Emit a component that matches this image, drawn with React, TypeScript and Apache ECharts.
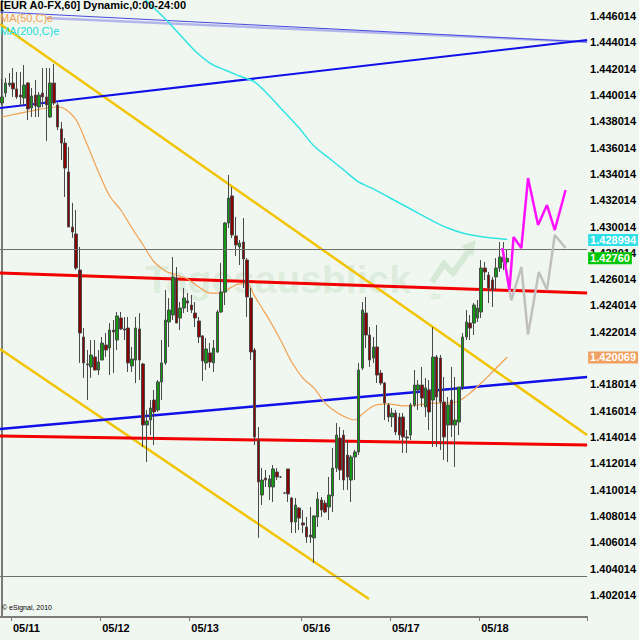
import React, { useEffect, useRef } from "react";
import * as echarts from "echarts";

const N_SLOTS = 158;

// [open, close, low, high] per hourly bar
const candles: [number, number, number, number][] = [
  [1.4394, 1.43986, 1.43925, 1.44123],
  [1.44016, 1.44092, 1.43986, 1.4413],
  [1.44077, 1.44092, 1.44062, 1.44168],
  [1.44092, 1.44047, 1.43986, 1.44206],
  [1.44047, 1.43986, 1.43971, 1.44176],
  [1.44001, 1.43986, 1.43917, 1.44176],
  [1.43978, 1.44077, 1.43925, 1.44229],
  [1.44092, 1.43895, 1.43811, 1.441],
  [1.43902, 1.43993, 1.43834, 1.44054],
  [1.44001, 1.43917, 1.43834, 1.44115],
  [1.4391, 1.44001, 1.43834, 1.44024],
  [1.44016, 1.43986, 1.4391, 1.44206],
  [1.43986, 1.43925, 1.43652, 1.44206],
  [1.43834, 1.44092, 1.43826, 1.44206],
  [1.44092, 1.4394, 1.43925, 1.44237],
  [1.43925, 1.43758, 1.43735, 1.4394],
  [1.43743, 1.43636, 1.43507, 1.43796],
  [1.43636, 1.43446, 1.43226, 1.43674],
  [1.43416, 1.42998, 1.42998, 1.43606],
  [1.42998, 1.4296, 1.42915, 1.43181],
  [1.42945, 1.42686, 1.42671, 1.43127],
  [1.42671, 1.42192, 1.41965, 1.42846],
  [1.42162, 1.41965, 1.41851, 1.4223],
  [1.41957, 1.4195, 1.41683, 1.42063],
  [1.41934, 1.42025, 1.41851, 1.42139],
  [1.4201, 1.41911, 1.41911, 1.42139],
  [1.41911, 1.41972, 1.41873, 1.42063],
  [1.41987, 1.42116, 1.41987, 1.42162],
  [1.42101, 1.42063, 1.4201, 1.42192],
  [1.42078, 1.42215, 1.41873, 1.42268],
  [1.42215, 1.422, 1.41888, 1.42291],
  [1.42139, 1.42322, 1.42063, 1.42352],
  [1.42306, 1.42223, 1.42215, 1.42352],
  [1.42223, 1.42215, 1.42139, 1.42314],
  [1.4223, 1.41965, 1.41896, 1.42314],
  [1.41942, 1.41995, 1.41896, 1.42086],
  [1.41987, 1.4223, 1.41812, 1.42314],
  [1.42223, 1.41987, 1.41835, 1.42344],
  [1.41957, 1.41493, 1.41326, 1.41965],
  [1.41493, 1.41524, 1.41212, 1.41607],
  [1.41531, 1.41622, 1.41417, 1.41683],
  [1.41683, 1.41592, 1.41341, 1.41759],
  [1.41607, 1.4182, 1.41592, 1.41835],
  [1.4182, 1.41965, 1.41683, 1.42139],
  [1.41965, 1.42291, 1.4195, 1.42519],
  [1.42276, 1.42367, 1.42086, 1.42458],
  [1.42329, 1.42618, 1.42291, 1.4277],
  [1.4261, 1.42268, 1.42268, 1.42694],
  [1.42306, 1.42382, 1.42215, 1.42428],
  [1.42382, 1.42458, 1.42344, 1.42534],
  [1.42436, 1.4242, 1.42352, 1.42496],
  [1.42405, 1.42367, 1.42344, 1.42481],
  [1.42344, 1.42306, 1.42238, 1.42428],
  [1.42284, 1.42162, 1.42116, 1.42314],
  [1.4217, 1.4198, 1.41828, 1.42177],
  [1.41965, 1.42071, 1.41911, 1.42154],
  [1.42041, 1.41972, 1.41927, 1.42116],
  [1.41965, 1.42078, 1.41896, 1.42139],
  [1.42048, 1.42352, 1.42041, 1.42367],
  [1.42352, 1.42504, 1.42344, 1.42724],
  [1.42504, 1.43028, 1.42405, 1.43036],
  [1.43028, 1.43218, 1.4299, 1.43393],
  [1.43234, 1.42937, 1.42914, 1.43302],
  [1.4293, 1.42861, 1.42778, 1.43074],
  [1.42846, 1.42876, 1.42709, 1.42899],
  [1.42884, 1.42755, 1.42534, 1.43066],
  [1.42747, 1.42466, 1.42314, 1.42762],
  [1.42458, 1.42048, 1.41987, 1.42534],
  [1.42063, 1.41402, 1.41341, 1.42078],
  [1.41379, 1.4106, 1.40636, 1.41478],
  [1.40961, 1.41075, 1.40885, 1.41166],
  [1.4109, 1.41075, 1.41022, 1.41151],
  [1.41022, 1.41083, 1.40923, 1.41113],
  [1.41022, 1.41159, 1.40908, 1.41189],
  [1.41136, 1.41098, 1.41075, 1.41166],
  [1.41098, 1.41098, 1.4109, 1.41105],
  [1.40976, 1.40976, 1.40969, 1.40984],
  [1.41159, 1.40969, 1.40908, 1.41159],
  [1.40938, 1.40756, 1.40672, 1.40946],
  [1.40756, 1.40885, 1.40672, 1.40938],
  [1.40862, 1.40786, 1.40695, 1.4087],
  [1.40749, 1.40733, 1.40672, 1.40847],
  [1.40718, 1.40642, 1.40597, 1.40794],
  [1.40657, 1.40642, 1.40597, 1.4087],
  [1.40635, 1.40802, 1.40445, 1.40809],
  [1.40794, 1.40931, 1.40718, 1.40984],
  [1.40923, 1.40847, 1.40794, 1.40946],
  [1.409, 1.40832, 1.40824, 1.40923],
  [1.4087, 1.40961, 1.40771, 1.41098],
  [1.40954, 1.41166, 1.40832, 1.41319],
  [1.41166, 1.41417, 1.41136, 1.41508],
  [1.41394, 1.41151, 1.41075, 1.41478],
  [1.41417, 1.41075, 1.40999, 1.41455],
  [1.41265, 1.41098, 1.40999, 1.41379],
  [1.41075, 1.4125, 1.40908, 1.41265],
  [1.4125, 1.41288, 1.41075, 1.41303],
  [1.41288, 1.41911, 1.41265, 1.41965],
  [1.41926, 1.42367, 1.41911, 1.42428],
  [1.42344, 1.42177, 1.42078, 1.42466],
  [1.42177, 1.41987, 1.41934, 1.42238],
  [1.42002, 1.42086, 1.41965, 1.42162],
  [1.42086, 1.41873, 1.41812, 1.42253],
  [1.41888, 1.41812, 1.41797, 1.41911],
  [1.41812, 1.4166, 1.41531, 1.4182],
  [1.41645, 1.41554, 1.41516, 1.4166],
  [1.41554, 1.41584, 1.41478, 1.41622],
  [1.41584, 1.4144, 1.41417, 1.41607],
  [1.41554, 1.41417, 1.41379, 1.41584],
  [1.41554, 1.41402, 1.41281, 1.41584],
  [1.41402, 1.41394, 1.41281, 1.41455],
  [1.41417, 1.41645, 1.41379, 1.4166],
  [1.41645, 1.41797, 1.4163, 1.41911],
  [1.41759, 1.41797, 1.41607, 1.41835],
  [1.41797, 1.41698, 1.4163, 1.41934],
  [1.4163, 1.41775, 1.41554, 1.4185],
  [1.41759, 1.41592, 1.41455, 1.41835],
  [1.41683, 1.4201, 1.41326, 1.42238],
  [1.4201, 1.41706, 1.41326, 1.42025],
  [1.42002, 1.41668, 1.41303, 1.42025],
  [1.41668, 1.41402, 1.41227, 1.41858],
  [1.41493, 1.41645, 1.41212, 1.41706],
  [1.41683, 1.41493, 1.41402, 1.41934],
  [1.41493, 1.41531, 1.41174, 1.41858],
  [1.41516, 1.41782, 1.41417, 1.41782],
  [1.41782, 1.42162, 1.41759, 1.42192],
  [1.42162, 1.42276, 1.42139, 1.42367],
  [1.42268, 1.4223, 1.42139, 1.42329],
  [1.42268, 1.42405, 1.42177, 1.4242],
  [1.42306, 1.42382, 1.42276, 1.42443],
  [1.42352, 1.42686, 1.42306, 1.42747],
  [1.42686, 1.42656, 1.42595, 1.42732],
  [1.42633, 1.42534, 1.4242, 1.42656],
  [1.42595, 1.42519, 1.4239, 1.42618],
  [1.42618, 1.42686, 1.42519, 1.42762],
  [1.42686, 1.4277, 1.42656, 1.42884],
  [1.4277, 1.42732, 1.42671, 1.42884],
  [1.42732, 1.4276, 1.42709, 1.42823],
];

const dateTickIdx = [3, 27, 51, 81, 105, 129];
const dateTickText = ["05/11", "05/12", "05/13", "05/16", "05/17", "05/18"];

const yTickValues = [
  1.402014, 1.404014, 1.406014, 1.408014, 1.410014, 1.412014, 1.414014, 1.416014,
  1.418014, 1.420014, 1.422014, 1.424014, 1.426014, 1.428014, 1.430014, 1.432014,
  1.434014, 1.436014, 1.438014, 1.440014, 1.442014, 1.444014, 1.446014,
];

// moving averages sampled at bar indexes
const ma50Idx = [0, 4, 8, 12, 15, 17, 20, 23, 26, 29, 32, 35, 38, 41, 44, 47, 50, 53, 56, 59, 61, 64, 66, 68, 70, 72, 75, 78, 81, 84, 87, 90, 93, 95, 97, 100, 104, 108, 112, 116, 120, 123, 126, 129, 132, 136];
const ma50Val = [1.43834, 1.43857, 1.4388, 1.43902, 1.4391, 1.43895, 1.43811, 1.43621, 1.43416, 1.43234, 1.43127, 1.4299, 1.42861, 1.42732, 1.42664, 1.42633, 1.42603, 1.42542, 1.42496, 1.42496, 1.42527, 1.42565, 1.42565, 1.42474, 1.42382, 1.42291, 1.42139, 1.41972, 1.4185, 1.41774, 1.4166, 1.41592, 1.41546, 1.41531, 1.41577, 1.41638, 1.41653, 1.41638, 1.41645, 1.4166, 1.4166, 1.41676, 1.41736, 1.41812, 1.41896, 1.4201];
const ma200Idx = [32, 39, 44, 48, 52, 56, 60, 64, 68, 72, 76, 80, 84, 88, 92, 96, 100, 104, 108, 112, 116, 120, 124, 128, 132, 136];
const ma200Val = [1.44921, 1.44715, 1.44579, 1.44457, 1.44335, 1.44244, 1.44191, 1.44145, 1.441, 1.43993, 1.43872, 1.4375, 1.43613, 1.43522, 1.43431, 1.4334, 1.43287, 1.43226, 1.43165, 1.43104, 1.43043, 1.4299, 1.42952, 1.42929, 1.42914, 1.42903];

// drawn trend lines: [startIdx, startPrice, endIdx, endPrice]
const trendBlueUpper = [-0.5, 1.43902, 157.5, 1.44419];
const trendBlueLower = [-0.5, 1.41463, 157.5, 1.41858];
const trendThinTop = [-0.5, 1.44632, 157.5, 1.44404];
const trendLavenderTop = [12, 1.44586, 157.5, 1.44404];
const trendYellowUpper = [-0.5, 1.44541, 157.5, 1.41417];
const trendYellowLower = [-0.5, 1.42071, 98.8, 1.40171];
const trendRedUpper = [-0.5, 1.42648, 157.5, 1.42496];
const trendRedLower = [-0.5, 1.4141, 157.5, 1.41341];
const hLineValues = [1.42829, 1.4034];

// forecast zigzags
const forecastMagentaIdx = [134.7, 136.6, 137.7, 139.8, 141.6, 144.3, 146.7, 148.8, 151.7];
const forecastMagentaVal = [1.42838, 1.42519, 1.42922, 1.42838, 1.4337, 1.43013, 1.43165, 1.42975, 1.43279];
const forecastGrayIdx = [134.7, 137.1, 139.8, 141.6, 144.5, 146.7, 148.8, 151.7];
const forecastGrayVal = [1.42838, 1.4244, 1.42694, 1.4218, 1.42656, 1.4252, 1.42937, 1.42838];

const lastMA200 = 1.428994;
const lastClose = 1.4276;
const lastMA50 = 1.420069;

const NARROW = "'Liberation Sans Narrow', 'Arial Narrow', 'Liberation Sans', Arial, sans-serif";

function seg(t: number[]) {
  return [
    [t[0], t[1]],
    [t[2], t[3]],
  ];
}

export default function App() {
  const ref = useRef<HTMLDivElement>(null);

  useEffect(() => {
    document.body.style.margin = "0";
    if (!ref.current) return;
    const chart = echarts.init(ref.current, undefined, { renderer: "svg" });

    const cats = Array.from({ length: N_SLOTS }, (_, i) => String(i));
    const lineSeries = (name: string, data: number[][], color: string, width: number, extra: any = {}) => ({
      name,
      type: "line",
      xAxisIndex: 1,
      yAxisIndex: 0,
      data,
      symbol: "none",
      silent: true,
      clip: true,
      lineStyle: { color, width },
      z: 3,
      ...extra,
    });

    const priceTag = (value: number, bg: string, text: string) => ({
      silent: true,
      symbol: "none",
      precision: 6,
      lineStyle: { color: "rgba(0,0,0,0)", width: 0 },
      label: {
        show: true,
        position: "end",
        distance: 1,
        formatter: text,
        backgroundColor: bg,
        color: "#ffffff",
        fontFamily: NARROW,
        fontWeight: "bold",
        fontSize: 11,
        padding: [1, 2, 0, 2],
      },
      data: [{ yAxis: value }],
    });

    const option: any = {
      animation: false,
      backgroundColor: "#f0f7f0",
      grid: { left: 0, top: 0, right: 42, bottom: 23, containLabel: false },
      xAxis: [
        {
          type: "category",
          data: cats,
          boundaryGap: true,
          axisLine: { show: true, lineStyle: { color: "#7a7a7a", width: 2 } },
          axisTick: {
            show: true,
            interval: (i: number) => dateTickIdx.includes(i),
            length: 4,
            lineStyle: { color: "#7a7a7a" },
          },
          axisLabel: {
            interval: (i: number) => dateTickIdx.includes(i),
            formatter: (_v: string, i: number) => {
              const k = dateTickIdx.indexOf(i);
              return k >= 0 ? dateTickText[k] : "";
            },
            align: "left",
            margin: 5,
            color: "#000",
            fontFamily: NARROW,
            fontWeight: "bold",
            fontSize: 11,
          },
          splitLine: { show: false },
        },
        { type: "value", min: -0.5, max: N_SLOTS - 0.5, show: false },
      ],
      yAxis: {
        type: "value",
        position: "right",
        min: 1.40034,
        max: 1.44723,
        scale: true,
        axisLine: { show: true, lineStyle: { color: "#7a7a7a", width: 2 } },
        axisTick: { show: false },
        splitLine: { show: false },
        axisLabel: {
          customValues: yTickValues,
          formatter: (v: number) => v.toFixed(6),
          color: "#000",
          fontFamily: NARROW,
          fontWeight: "bold",
          fontSize: 11,
          margin: 3,
        },
      },
      graphic: [
        {
          type: "text",
          left: 145,
          top: 260,
          z: 0,
          silent: true,
          style: {
            text: "Tagesausblick",
            fill: "rgba(175,210,175,0.3)",
            font: "bold 39px 'Liberation Sans', Arial, sans-serif",
          },
        },
        {
          type: "text",
          left: 428,
          top: 291,
          z: 0,
          silent: true,
          style: { text: ".de", fill: "rgba(175,210,175,0.4)", font: "bold 9px 'Liberation Sans', Arial, sans-serif" },
        },
        {
          type: "polyline",
          z: 0,
          silent: true,
          shape: { points: [[432, 282], [444, 264], [453, 273], [468, 252]] },
          style: { stroke: "rgba(175,210,175,0.4)", lineWidth: 6, fill: "none" },
        },
        {
          type: "polygon",
          z: 0,
          silent: true,
          shape: { points: [[461, 246], [476, 240], [473, 256]] },
          style: { fill: "rgba(175,210,175,0.4)" },
        },
        {
          type: "text",
          left: 0,
          top: -1,
          z: 10,
          style: { text: "[EUR A0-FX,60] Dynamic,0:00-24:00", fill: "#000", font: "bold 11px " + NARROW },
        },
        {
          type: "text",
          left: 0,
          top: 12,
          z: 10,
          style: { text: "MA(50,C)e", fill: "#f0a050", font: "11px " + NARROW },
        },
        {
          type: "text",
          left: 0,
          top: 25,
          z: 10,
          style: { text: "MA(200,C)e", fill: "#20dada", font: "11px " + NARROW },
        },
        {
          type: "text",
          left: 2,
          top: 604,
          z: 10,
          style: { text: "© eSignal, 2010", fill: "#000", font: "7px 'Liberation Sans', Arial, sans-serif" },
        },
      ],
      series: [
        lineSeries("lavenderTop", seg(trendLavenderTop), "rgba(130,130,230,0.55)", 2.5),
        lineSeries("thinTop", seg(trendThinTop), "#4848e0", 1),
        lineSeries("yellowUpper", seg(trendYellowUpper), "#f2c400", 2.5),
        lineSeries("yellowLower", seg(trendYellowLower), "#f2c400", 2.5),
        lineSeries("blueUpper", seg(trendBlueUpper), "#1010e8", 2),
        lineSeries("blueLower", seg(trendBlueLower), "#1010e8", 2.5),
        lineSeries("redUpper", seg(trendRedUpper), "#f20000", 3),
        lineSeries("redLower", seg(trendRedLower), "#f20000", 3),
        lineSeries(
          "MA200",
          ma200Idx.map((x, k) => [x, ma200Val[k]]),
          "#30e4e4",
          1.5,
          { smooth: 0.3, markLine: priceTag(lastMA200, "#30e0e8", lastMA200.toFixed(6)) }
        ),
        lineSeries(
          "MA50",
          ma50Idx.map((x, k) => [x, ma50Val[k]]),
          "#f2a050",
          1.2,
          { smooth: 0.3, markLine: priceTag(lastMA50, "#f0a060", lastMA50.toFixed(6)) }
        ),
        lineSeries(
          "hLines",
          [[-0.5, hLineValues[0]]],
          "rgba(0,0,0,0)",
          0,
          {
            markLine: {
              silent: true,
              symbol: "none",
              precision: 6,
              label: { show: false },
              lineStyle: { color: "#6e6e6e", width: 1.2, type: "solid" },
              data: hLineValues.map((v) => ({ yAxis: v })),
            },
          }
        ),
        {
          name: "EUR",
          type: "candlestick",
          xAxisIndex: 0,
          yAxisIndex: 0,
          data: candles,
          barWidth: 3,
          z: 4,
          itemStyle: {
            color: "#119a11",
            color0: "#8c0000",
            borderColor: "#4a4a4a",
            borderColor0: "#4a4a4a",
            borderWidth: 1,
          },
          markLine: priceTag(lastClose, "#00c800", lastClose.toFixed(5)),
        },
        lineSeries("forecastGray", forecastGrayIdx.map((x, k) => [x, forecastGrayVal[k]]), "#c0c0c0", 2.5, { z: 5 }),
        lineSeries("forecastMagenta", forecastMagentaIdx.map((x, k) => [x, forecastMagentaVal[k]]), "#ff10ff", 2.5, { z: 6 }),
      ],
    };

    chart.setOption(option);
    return () => chart.dispose();
  }, []);

  return (
    <div style={{ position: "fixed", left: 0, top: 0, width: 639, height: 640 }}>
      <div ref={ref} style={{ width: 639, height: 640 }} />
    </div>
  );
}
